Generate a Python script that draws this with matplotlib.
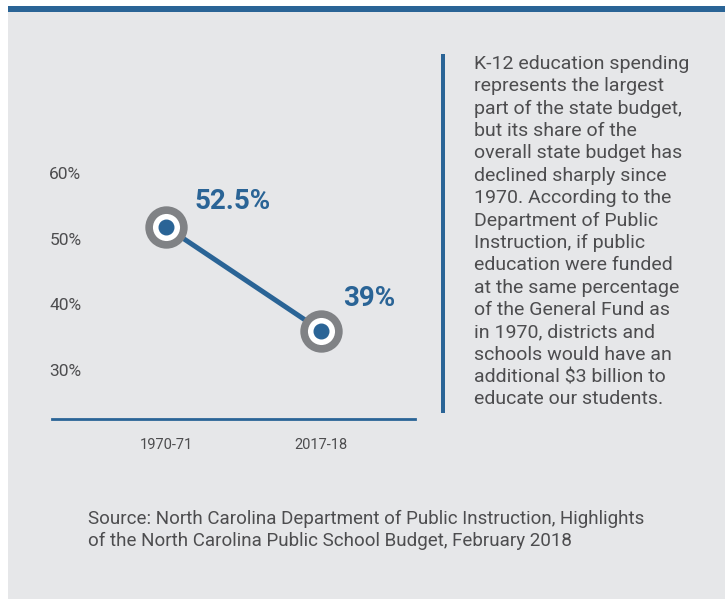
import matplotlib.pyplot as plt
from matplotlib.patches import Rectangle

# values as drawn (the printed labels differ slightly from the plotted positions)
years = ["1970-71", "2017-18"]
share = [51.8, 36.0]
share_labels = ["52.5%", "39%"]
y_ticks = [30, 40, 50, 60]

note = ("K-12 education spending\nrepresents the largest\npart of the state budget,\n"
        "but its share of the\noverall state budget has\ndeclined sharply since\n"
        "1970. According to the\nDepartment of Public\nInstruction, if public\n"
        "education were funded\nat the same percentage\nof the General Fund as\n"
        "in 1970, districts and\nschools would have an\nadditional $3 billion to\n"
        "educate our students.")
source = ("Source: North Carolina Department of Public Instruction, Highlights\n"
          "of the North Carolina Public School Budget, February 2018")

BLUE = "#2a6496"
RING = "#808285"
TEXT = "#4d4d4f"
BG = "#e6e7e9"

W, H = 725, 599
plt.rcParams["font.family"] = ["Roboto", "DejaVu Sans"]
fig = plt.figure(figsize=(W / 100, H / 100), dpi=100)
fig.patch.set_facecolor("white")


def fx(px):
    return px / W


def fy(py):
    return 1 - py / H


# panel + top bar
fig.patches.append(Rectangle((fx(8), 0), fx(W - 8), fy(8), transform=fig.transFigure,
                             facecolor=BG, edgecolor="none", zorder=-10))
fig.patches.append(Rectangle((fx(8), fy(12)), fx(W - 8), 6 / H, transform=fig.transFigure,
                             facecolor=BLUE, edgecolor="none", zorder=-9))
# vertical bar next to the note
fig.patches.append(Rectangle((fx(441), fy(413)), 4 / W, 359 / H, transform=fig.transFigure,
                             facecolor=BLUE, edgecolor="none", zorder=-9))

ax = fig.add_axes([fx(52), fy(419), fx(415 - 52), (419 - 150) / H])
ax.set_zorder(1)
ax.set_facecolor("none")
x = list(range(len(years)))
ax.plot(x, share, color=BLUE, lw=3.6, zorder=2, solid_capstyle="round")
ax.plot(x, share, "o", ms=25, mfc="white", mec=RING, mew=5.5, zorder=3)
ax.plot(x, share, "o", ms=10.5, mfc=BLUE, mec=BLUE, zorder=4)

label_offsets = [(48, 18), (35, 23)]
for xi, yi, lab, off in zip(x, share, share_labels, label_offsets):
    ax.annotate(lab, (xi, yi), xytext=off, textcoords="offset points",
                ha="center", va="center", fontsize=20, fontweight="bold", color=BLUE)

ax.set_xlim(-0.735, 1.606)
ax.set_ylim(22.54, 63.5)
ax.set_xticks(x)
ax.set_xticklabels(years)
ax.set_yticks(y_ticks)
ax.set_yticklabels([f"{t}%" for t in y_ticks])
for lab in ax.get_yticklabels():
    lab.set_ha("left")
ax.tick_params(axis="y", length=0, pad=2, labelsize=12.5, labelcolor=TEXT)
ax.tick_params(axis="x", length=0, pad=14, labelsize=10.5, labelcolor=TEXT)
for side in ["top", "right", "left"]:
    ax.spines[side].set_visible(False)
ax.spines["bottom"].set_color(BLUE)
ax.spines["bottom"].set_linewidth(2)

fig.text(fx(474), fy(55), note, ha="left", va="top", fontsize=14, color=TEXT,
         linespacing=1.31)
fig.text(fx(88), fy(530), source, ha="left", va="center", fontsize=13.5, color=TEXT,
         linespacing=1.32)

fig.savefig("out.png", dpi=100, facecolor=fig.get_facecolor())
